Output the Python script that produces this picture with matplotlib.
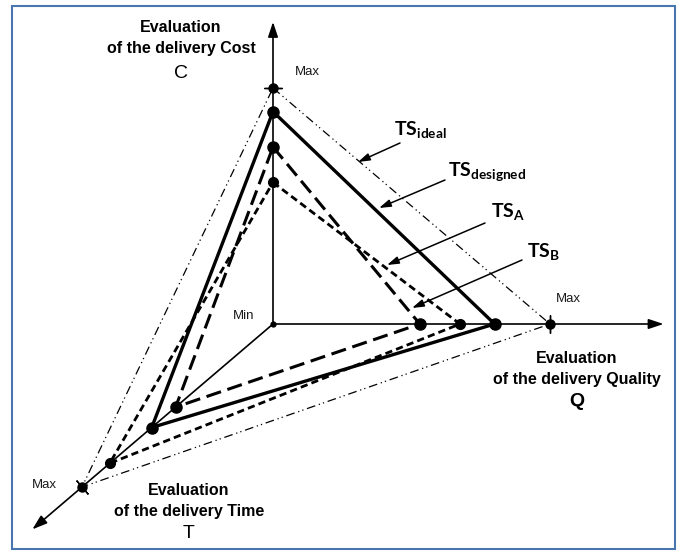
import matplotlib
matplotlib.use('Agg')
import numpy as np
import matplotlib.pyplot as plt
from matplotlib.patches import Rectangle

plt.rcParams['font.family'] = ['Liberation Sans', 'DejaVu Sans']
plt.rcParams['mathtext.fontset'] = 'custom'
plt.rcParams['mathtext.rm'] = 'Lato:bold'
plt.rcParams['mathtext.it'] = 'Lato:bold'
plt.rcParams['mathtext.bf'] = 'Lato:bold'

# evaluations, as share of the axis maximum
axes_names = ["C", "Q", "T"]
ts_ideal = [1.0, 1.0, 1.0]
ts_designed = [0.90, 0.80, 0.635]
ts_a = [0.75, 0.53, 0.51]
ts_b = [0.60, 0.675, 0.855]

# axis directions (length of Max) on the drawing
axis_vec = {"C": (0, 236), "Q": (277, 0), "T": (-191, -163)}
axis_len = {"C": 1.28, "Q": 1.41, "T": 1.26}


def project(values):
    pts = [np.array(axis_vec[k]) * v for k, v in zip(axes_names, values)]
    pts.append(pts[0])
    return np.array(pts)


fig = plt.figure(figsize=(6.8, 5.51), dpi=100)
ax = fig.add_axes([0, 0, 1, 1])
ax.set_xlim(-273, 407)
ax.set_ylim(-227, 324)
ax.axis('off')

fig.patches.append(Rectangle((12 / 680, 2 / 551), 663 / 680, 543 / 551,
                             transform=fig.transFigure, fill=False,
                             edgecolor='#4a76b0', lw=1.5))

# axes with arrows
for k in axes_names:
    end = np.array(axis_vec[k]) * axis_len[k]
    ax.annotate('', xy=end, xytext=(0, 0),
                arrowprops=dict(arrowstyle='-|>,head_length=0.9,head_width=0.3',
                                lw=1.2, color='black', shrinkA=0, shrinkB=0))
ax.plot(0, 0, 'o', color='black', ms=3.5, zorder=5)

# triangles
p = project(ts_ideal)
ax.plot(p[:, 0], p[:, 1], color='black', lw=0.9, linestyle=(0, (7, 3, 1, 2.5, 1, 3)))
p = project(ts_designed)
ax.plot(p[:, 0], p[:, 1], color='black', lw=2.4)
p = project(ts_a)
ax.plot(p[:, 0], p[:, 1], color='black', lw=2.2, linestyle=(0, (5, 2.2)))
p = project(ts_b)
ax.plot(p[:, 0], p[:, 1], color='black', lw=2.0, linestyle=(0, (2.6, 1.5)))

for vals, ms in [(ts_designed, 8), (ts_a, 8), (ts_b, 7)]:
    p = project(vals)[:3]
    ax.plot(p[:, 0], p[:, 1], 'o', color='black', ms=ms, lw=0, zorder=6)

# Max points with cross ticks
for k in axes_names:
    v = np.array(axis_vec[k])
    theta = np.degrees(np.arctan2(v[1], v[0]))
    ax.plot(v[0], v[1], 'o', color='black', ms=6.5, zorder=6)
    ax.plot(v[0], v[1], marker=(2, 2, theta), color='black', ms=13, mew=1, zorder=6)

# labels
small = dict(fontsize=9.5, color='#1a1a1a', ha='center', va='center')
ax.text(34, 252, "Max", **small)
ax.text(295, 25, "Max", **small)
ax.text(-229, -161, "Max", **small)
ax.text(-29, 8, "Min", **small)

title = dict(fontsize=11.5, fontweight='bold', ha='center', va='center', linespacing=1.5)
ax.text(-92, 286, "Evaluation\nof the delivery Cost", **title)
ax.text(-92, 251, "C", fontsize=14, ha='center', va='center')
ax.text(304, -45, "Evaluation\nof the delivery Quality", **title)
ax.text(304, -78, "Q", fontsize=14, fontweight='bold', ha='center', va='center')
ax.text(-84, -177, "Evaluation\nof the delivery Time", **title)
ax.text(-84, -210, "T", fontsize=14, ha='center', va='center')

# TS callouts
callouts = [
    (r"$\mathbf{TS_{ideal}}$", (121, 195), (127, 181), (85, 162)),
    (r"$\mathbf{TS_{designed}}$", (175, 152), (172, 144), (106, 116)),
    (r"$\mathbf{TS_{A}}$", (218, 112), (212, 101), (114, 59)),
    (r"$\mathbf{TS_{B}}$", (254, 72), (249, 64), (139, 16)),
]
for label, tpos, start, tip in callouts:
    ax.text(tpos[0], tpos[1], label, fontsize=14, ha='left', va='center')
    ax.annotate('', xy=tip, xytext=start,
                arrowprops=dict(arrowstyle='-|>,head_length=0.7,head_width=0.22',
                                lw=1.1, color='black', shrinkA=0, shrinkB=0))

fig.savefig("out.png", dpi=100)
